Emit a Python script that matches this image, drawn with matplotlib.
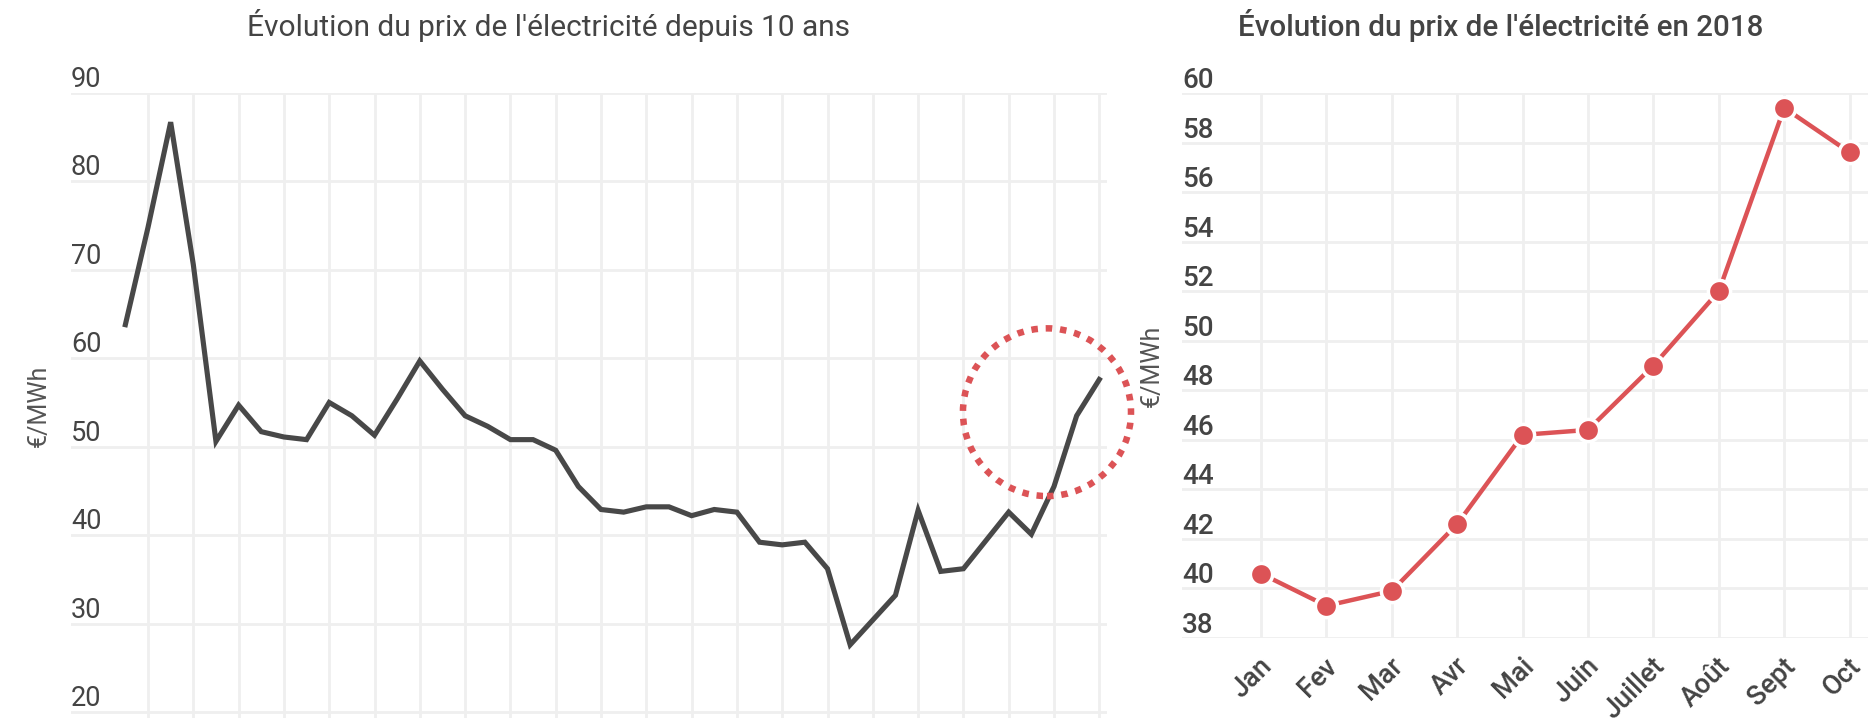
import matplotlib.pyplot as plt
import matplotlib.transforms as mtransforms
from matplotlib.patches import Ellipse

plt.rcParams['font.family'] = ['Roboto', 'DejaVu Sans']

# left chart: price over the last 10 years (one point per period)
prix_10ans = [63.8, 74.8, 86.7, 70.6, 50.6, 54.7, 51.7, 51.1, 50.8, 55.0,
              53.5, 51.3, 55.4, 59.7, 56.5, 53.5, 52.3, 50.8, 50.8, 49.6,
              45.5, 42.9, 42.6, 43.2, 43.2, 42.2, 42.9, 42.6, 39.2, 38.9,
              39.2, 36.2, 27.6, 30.4, 33.2, 42.8, 35.9, 36.2, 39.4, 42.6,
              40.1, 45.5, 53.5, 57.6]
yticks_10ans = [20, 30, 40, 50, 60, 70, 80, 90]

# right chart: 2018 by month
mois = ['Jan', 'Fev', 'Mar', 'Avr', 'Mai', 'Juin', 'Juillet', 'Août', 'Sept', 'Oct']
prix_2018 = [40.6, 39.3, 39.9, 42.6, 46.2, 46.4, 49.0, 52.0, 59.4, 57.6]
yticks_2018 = [38, 40, 42, 44, 46, 48, 50, 52, 54, 56, 58, 60]

titre_gauche = "Évolution du prix de l'électricité depuis 10 ans"
titre_droite = "Évolution du prix de l'électricité en 2018"
unite = '€/MWh'

W, H = 1868, 718
DPI = 100
text_color = '#444444'
grid_color = '#efefef'
red = '#dc5356'
dark = '#484848'

fig = plt.figure(figsize=(W / DPI, H / DPI), dpi=DPI)
fig.patch.set_facecolor('white')


def px_offset(dx, dy):
    return mtransforms.ScaledTranslation(dx / DPI, dy / DPI, fig.dpi_scale_trans)


def style_axes(ax):
    for sp in ax.spines.values():
        sp.set_visible(False)
    ax.tick_params(length=0, labelleft=False, labelbottom=False)
    ax.grid(True, color=grid_color, linewidth=2.0)
    ax.set_axisbelow(True)


# ---- left chart ----
ax1 = fig.add_axes([71 / W, 0, (1107 - 71) / W, (718 - 93) / H])
style_axes(ax1)
x1 = list(range(len(prix_10ans)))
ax1.plot(x1, prix_10ans, color=dark, linewidth=3.7, solid_joinstyle='miter', zorder=3)
ax1.set_xlim(-2.4, 43.34)
ax1.set_ylim(19.32, 90)
ax1.set_xticks(range(1, len(prix_10ans), 2))
ax1.set_yticks(yticks_10ans)
for v in yticks_10ans:
    ax1.text(0, v, str(v), transform=ax1.get_yaxis_transform() + px_offset(0, 6),
             ha='left', va='baseline', fontsize=19.5, color=text_color)
ax1.text(-0.031, 0.5, unite, transform=ax1.transAxes, rotation=90,
         ha='center', va='center', fontsize=18, color='#555555')

# dotted highlight around the latest rise
cercle = Ellipse((40.69, 53.9), width=7.42, height=18.97, fill=False,
                 edgecolor=red, linewidth=4.7, linestyle=(0, (1, 1.2)),
                 clip_on=False, zorder=4)
ax1.add_patch(cercle)

fig.text(548.5 / W, 1 - 26 / H, titre_gauche, ha='center', va='center',
         fontsize=21.5, color=text_color)

# ---- right chart ----
ax2 = fig.add_axes([1182 / W, (718 - 638) / H, (1868 - 1182) / W, (638 - 93) / H])
style_axes(ax2)
x2 = list(range(len(mois)))
ax2.plot(x2, prix_2018, color=red, linewidth=3.2, marker='o', markersize=16,
         markerfacecolor=red, markeredgecolor='white', markeredgewidth=2.5, zorder=3)
ax2.set_xlim(-1.208, 9.28)
ax2.set_ylim(38, 60)
ax2.set_xticks(x2)
ax2.set_yticks(yticks_2018)
for v in yticks_2018:
    ax2.text(0, v, str(v), transform=ax2.get_yaxis_transform() + px_offset(0, 5),
             ha='left', va='baseline', fontsize=20, color=text_color, fontweight='medium')
for xi, m in zip(x2, mois):
    ax2.text(xi, 0, m, transform=ax2.get_xaxis_transform() + px_offset(7, -24),
             rotation=45, rotation_mode='anchor', ha='right', va='center',
             fontsize=19.5, color=text_color, fontweight='medium')
ax2.text(-0.0437, 0.5, unite, transform=ax2.transAxes, rotation=90,
         ha='center', va='center', fontsize=18, color='#555555')

fig.text(1501 / W, 1 - 26 / H, titre_droite, ha='center', va='center',
         fontsize=21.3, color=text_color, fontweight='medium')

fig.savefig('out.png', dpi=DPI, facecolor='white')
